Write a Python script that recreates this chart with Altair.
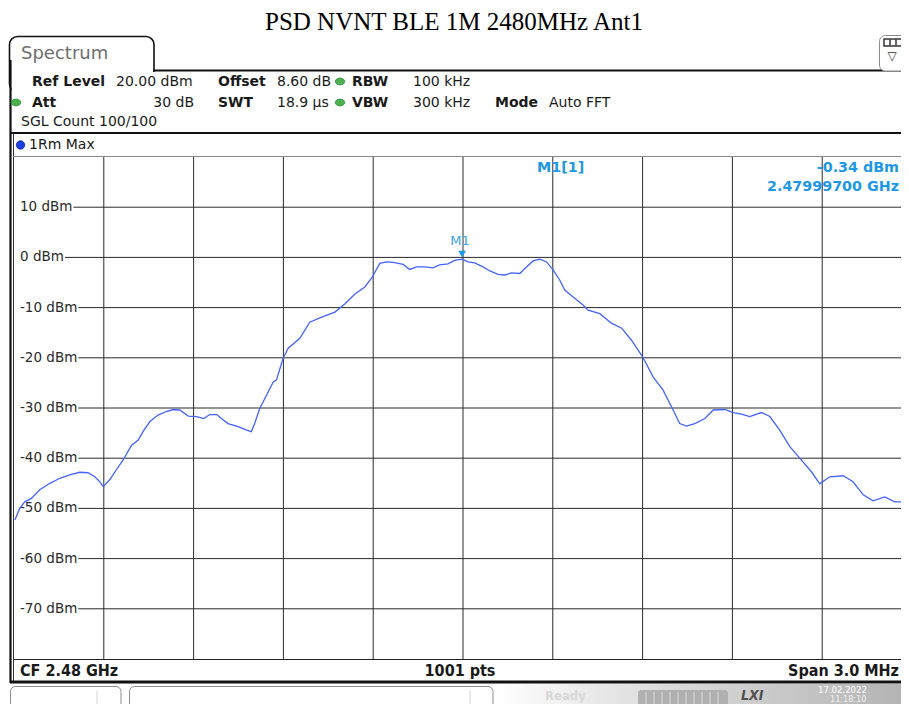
import altair as alt
import pandas as pd

TITLE = "PSD NVNT BLE 1M 2480MHz Ant1"

# ---- trace data (frequency in MHz, level in dBm) ----
freq_mhz = [
    2478.503, 2478.519, 2478.536, 2478.558, 2478.586, 2478.620, 2478.653, 2478.686, 2478.720, 2478.747,
    2478.770, 2478.787, 2478.798, 2478.821, 2478.842, 2478.864, 2478.893, 2478.915, 2478.931, 2478.954,
    2478.981, 2479.009, 2479.032, 2479.054, 2479.082, 2479.110, 2479.134, 2479.154, 2479.177, 2479.193,
    2479.215, 2479.249, 2479.277, 2479.293, 2479.304, 2479.321, 2479.344, 2479.366, 2479.377, 2479.399,
    2479.416, 2479.455, 2479.488, 2479.528, 2479.572, 2479.605, 2479.639, 2479.672, 2479.695, 2479.722,
    2479.744, 2479.767, 2479.800, 2479.822, 2479.845, 2479.872, 2479.900, 2479.922, 2479.950, 2479.972,
    2479.997, 2480.017, 2480.039, 2480.067, 2480.090, 2480.117, 2480.140, 2480.162, 2480.190, 2480.212,
    2480.234, 2480.257, 2480.279, 2480.301, 2480.323, 2480.340, 2480.368, 2480.401, 2480.418, 2480.457,
    2480.496, 2480.530, 2480.563, 2480.600, 2480.635, 2480.668, 2480.702, 2480.724, 2480.747, 2480.774,
    2480.808, 2480.836, 2480.875, 2480.902, 2480.930, 2480.958, 2480.997, 2481.025, 2481.058, 2481.092,
    2481.125, 2481.164, 2481.192, 2481.225, 2481.270, 2481.303, 2481.337, 2481.370, 2481.409, 2481.442,
    2481.470, 2481.487, 2481.500,
]
level_dbm = [
    -52.3, -50.0, -48.7, -48.0, -46.3, -45.0, -44.0, -43.3, -42.8, -42.9,
    -43.7, -44.7, -45.7, -44.2, -42.3, -40.4, -37.4, -36.4, -34.7, -32.7,
    -31.4, -30.7, -30.3, -30.4, -31.6, -31.7, -32.1, -31.3, -31.3, -32.1,
    -33.1, -33.7, -34.4, -34.7, -33.1, -30.1, -27.4, -24.8, -24.4, -20.1,
    -18.1, -16.1, -12.9, -11.9, -10.9, -9.3, -7.3, -5.9, -4.1, -1.2,
    -0.9, -1.0, -1.4, -2.4, -1.9, -1.9, -2.1, -1.5, -1.3, -0.6,
    -0.34, -0.9, -1.1, -1.9, -2.7, -3.4, -3.5, -3.1, -3.2, -1.9,
    -0.7, -0.35, -0.9, -2.5, -4.5, -6.5, -7.9, -9.5, -10.5, -11.2,
    -13.1, -14.1, -16.5, -19.8, -23.8, -26.4, -30.4, -33.1, -33.6, -33.1,
    -32.1, -30.4, -30.3, -30.9, -31.2, -31.7, -30.9, -31.7, -34.4, -37.7,
    -40.0, -42.7, -45.1, -43.7, -43.5, -44.7, -47.3, -48.5, -47.7, -48.7,
    -48.7, -49.3, -49.5,
]

marker_name = "M1"
marker_freq_mhz = [2479.997]
marker_level_dbm = [-0.34]
marker_readout = ["M1[1]", "-0.34 dBm", "2.47999700 GHz"]

y_levels = [10, 0, -10, -20, -30, -40, -50, -60, -70]
y_labels = [f"{v} dBm" for v in y_levels]
x_grid_mhz = [2478.8, 2479.1, 2479.4, 2479.7, 2480.0, 2480.3, 2480.6, 2480.9, 2481.2]

header_row1 = [("Ref Level", "20.00 dBm"), ("Offset", "8.60 dB"), ("RBW", "100 kHz")]
header_row2 = [("Att", "30 dB"), ("SWT", "18.9 µs"), ("VBW", "300 kHz"), ("Mode", "Auto FFT")]
header_row3 = "SGL Count 100/100"
tab_label = "Spectrum"
trace_label = "1Rm Max"
footer = ["CF 2.48 GHz", "1001 pts", "Span 3.0 MHz"]
status = ["Ready", "17.02.2022", "11:18:10", "LXI"]

# ---- layout (page pixels) ----
OX, OY = 14, 157            # plot origin
RIGHT = 901                 # right edge of the drawable page area
TOTAL_W, TOTAL_H = RIGHT - 8, 696
W, H = RIGHT - OX, 502      # plot size
X_MIN = 2478.5
X_MAX = X_MIN + W * 3.0 / 898.0
SCREEN = "DejaVu Sans"
COND = "DejaVu Sans Condensed, DejaVu Sans"
INK = "#1a1a1a"
TRACE = "#4662ff"
MBLUE = "#1f98e3"
GRID = "#2a2a2a"

xscale = alt.Scale(domain=[X_MIN, X_MAX], nice=False, zero=False)
yscale = alt.Scale(domain=[-80, 20], nice=False, zero=False)

ONE = pd.DataFrame({"k": [0]})


def px(x):
    return x - OX


def py(y):
    return y - OY


def rect(x1, y1, x2, y2, **kw):
    return alt.Chart(ONE).mark_rect(**kw).encode(
        x=alt.value(px(x1)), x2=alt.value(px(x2)),
        y=alt.value(py(y1)), y2=alt.value(py(y2)))


def hline(x1, x2, y, color=INK, w=1.0):
    return alt.Chart(ONE).mark_rule(color=color, strokeWidth=w).encode(
        x=alt.value(px(x1)), x2=alt.value(px(x2)), y=alt.value(py(y)))


def vline(x, y1, y2, color=INK, w=1.0):
    return alt.Chart(ONE).mark_rule(color=color, strokeWidth=w).encode(
        x=alt.value(px(x)), y=alt.value(py(y1)), y2=alt.value(py(y2)))


def text(s, x, y, size=14, weight="normal", color=INK, align="left", font=SCREEN,
         baseline="middle", **kw):
    return alt.Chart(ONE).mark_text(
        text=s, align=align, baseline=baseline, fontSize=size,
        fontWeight=weight, color=color, font=font, **kw).encode(
        x=alt.value(px(x)), y=alt.value(py(y)))


def dot(x, y, color, stroke, size, shape="circle"):
    return alt.Chart(ONE).mark_point(
        shape=shape, filled=True, size=size, fill=color, stroke=stroke,
        strokeWidth=0.8, opacity=1).encode(x=alt.value(px(x)), y=alt.value(py(y)))


ELLIPSE = "M-1,0A1,0.72,0,1,1,1,0A1,0.72,0,1,1,-1,0Z"

# ---- data frames ----
trace_df = pd.DataFrame({"freq": freq_mhz, "level": level_dbm})
marker_df = pd.DataFrame({"freq": marker_freq_mhz, "level": marker_level_dbm, "name": [marker_name]})
vgrid_df = pd.DataFrame({"freq": x_grid_mhz})

EM = {"-": 0.361, " ": 0.318, "d": 0.635, "B": 0.686, "m": 0.974}
LBL_SIZE = 13.5
hgrid_df = pd.DataFrame({"level": y_levels, "label": y_labels})
hgrid_df["xstart"] = [6 + 1 + LBL_SIZE * sum(EM.get(c, 0.636) for c in s) for s in y_labels]

layers = []

# title
layers.append(text(TITLE, 454, 30, size=25, font="Liberation Serif", color="#000",
                   align="center", baseline="alphabetic"))

# tab + header frame
layers.append(rect(9.5, 36.5, 154, 92, fill="white", stroke="#111", strokeWidth=1.6, cornerRadius=8))
layers.append(rect(11.5, 72, RIGHT, 132, fill="white"))
layers.append(text(tab_label, 21, 54, size=18, color="#6e6e6e"))
layers.append(hline(153, RIGHT, 70.5, "#111", 2))
layers.append(rect(879.5, 35.5, 913, 71, fill="white", stroke="#8a8a8a", strokeWidth=1, cornerRadius=6))
layers.append(rect(884, 39, 902, 46, fill="white", stroke="#333", strokeWidth=1.5))
layers.append(vline(890, 39.5, 45.5, "#333", 1.5))
layers.append(vline(896, 39.5, 45.5, "#333", 1.5))
layers.append(text("\u25bd", 892, 56, size=12, color="#333", align="center"))
layers.append(vline(10.5, 60, 683, "#111", 2.2))
layers.append(hline(10, RIGHT, 133, "#111", 2))
layers.append(vline(13.5, 133, 681, "#333", 1))
layers.append(hline(10, RIGHT, 682, "#111", 3))

# header texts
col_lbl1 = [32, 218, 352]
col_val1 = [116, 277, 413]
for (lbl, val), xl, xv in zip(header_row1, col_lbl1, col_val1):
    layers.append(text(lbl, xl, 81.5, weight="bold"))
    layers.append(text(val, xv, 81.5))
col_lbl2 = [32, 218, 352, 495]
col_val2 = [194, 277, 413, 549]
for i, ((lbl, val), xl, xv) in enumerate(zip(header_row2, col_lbl2, col_val2)):
    layers.append(text(lbl, xl, 102.5, weight="bold"))
    layers.append(text(val, xv, 102.5, align="right" if i == 0 else "left"))
layers.append(text(header_row3, 21, 122))
for gx, gy in [(340, 81.5), (340, 102.5), (16, 102.5)]:
    layers.append(dot(gx, gy, "#4caf50", "#2f8f3a", 90, ELLIPSE))
layers.append(dot(20.5, 145, "#1d3fe6", "#0a1f8a", 70))
layers.append(text(trace_label, 29, 145))

# plot borders
layers.append(hline(13, RIGHT, 156.5, "#8a8a8a", 1))
layers.append(hline(13, RIGHT, 659.5, "#222", 1))

# grid
layers.append(alt.Chart(vgrid_df).mark_rule(color=GRID, strokeWidth=1).encode(
    x=alt.X("freq:Q", scale=xscale, axis=None), y=alt.value(0), y2=alt.value(H)))
layers.append(alt.Chart(hgrid_df).mark_rule(color=GRID, strokeWidth=1).encode(
    y=alt.Y("level:Q", scale=yscale, axis=None),
    x=alt.X("xstart:Q", scale=None, axis=None), x2=alt.value(W)))
layers.append(alt.Chart(hgrid_df).mark_text(
    align="left", baseline="middle", fontSize=LBL_SIZE, font=SCREEN, color="#2a2a2a").encode(
    x=alt.value(6), y=alt.Y("level:Q", scale=yscale, axis=None), text="label:N"))

# trace
layers.append(alt.Chart(trace_df).mark_line(color=TRACE, strokeWidth=1.3, clip=True).encode(
    x=alt.X("freq:Q", scale=xscale, axis=None), y=alt.Y("level:Q", scale=yscale, axis=None)))

# marker
layers.append(alt.Chart(marker_df).mark_point(
    shape="triangle-down", filled=True, size=60, color=MBLUE, opacity=1, yOffset=-5).encode(
    x=alt.X("freq:Q", scale=xscale, axis=None), y=alt.Y("level:Q", scale=yscale, axis=None)))
layers.append(alt.Chart(marker_df).mark_text(
    fontSize=13, font=SCREEN, color="#3aa2e6", dy=-18, dx=-2).encode(
    x=alt.X("freq:Q", scale=xscale, axis=None), y=alt.Y("level:Q", scale=yscale, axis=None),
    text="name:N"))
layers.append(text(marker_readout[0], 537, 168, size=14.3, weight="bold", color=MBLUE))
layers.append(text(marker_readout[1], 899, 168, size=14.3, weight="bold", color=MBLUE, align="right"))
layers.append(text(marker_readout[2], 899, 186.5, size=14.3, weight="bold", color=MBLUE, align="right"))

# footer bar
layers.append(text(footer[0], 20, 671, size=16, weight="bold", font=COND))
layers.append(text(footer[1], 460, 671, size=16, weight="bold", font=COND, align="center"))
layers.append(text(footer[2], 899, 671, size=16, weight="bold", font=COND, align="right"))

# status bar
grad = alt.LinearGradient(
    gradient="linear", x1=0, x2=1, y1=0, y2=0,
    stops=[alt.GradientStop(color="#ffffff", offset=0),
           alt.GradientStop(color="#e4e4e4", offset=0.3),
           alt.GradientStop(color="#b4b4b4", offset=1)])
layers.append(rect(496, 684, RIGHT, 712, fill=grad))
layers.append(rect(10.5, 686.5, 121, 711.5, fill="white", stroke="#8c8c8c", strokeWidth=1, cornerRadius=5))
layers.append(rect(129.5, 686.5, 493, 711.5, fill="white", stroke="#8c8c8c", strokeWidth=1, cornerRadius=5))
layers.append(vline(97, 691, 707, "#d4d4d4", 1))
layers.append(vline(470, 691, 707, "#d4d4d4", 1))
layers.append(text(status[0], 545, 696, size=13, weight="bold", color="#d8d8d8", font=COND))
layers.append(rect(638, 690, 728, 707, fill="#b0b0b0", cornerRadius=3))
for sx in range(646, 726, 8):
    layers.append(vline(sx, 692, 705, "#dcdcdc", 1))
layers.append(text(status[3], 741, 696, size=14, weight="bold", color="#505050", font=COND, fontStyle="italic"))
layers.append(text(status[1], 818, 689.5, size=9.5, color="#ffffff", font=COND))
layers.append(text(status[2], 830, 698.5, size=9, color="#f0f0f0", font=COND))

chart = alt.layer(*layers).resolve_scale(x="independent").properties(
    width=W, height=H,
    autosize=alt.AutoSizeParams(type="none"),
    padding={"left": OX - 8, "top": OY - 8, "right": TOTAL_W - (OX - 8) - W,
             "bottom": TOTAL_H - (OY - 8) - H},
    background="white",
).configure_view(stroke=None)

chart.save("out.html", embed_options={"renderer": "svg", "actions": False})
